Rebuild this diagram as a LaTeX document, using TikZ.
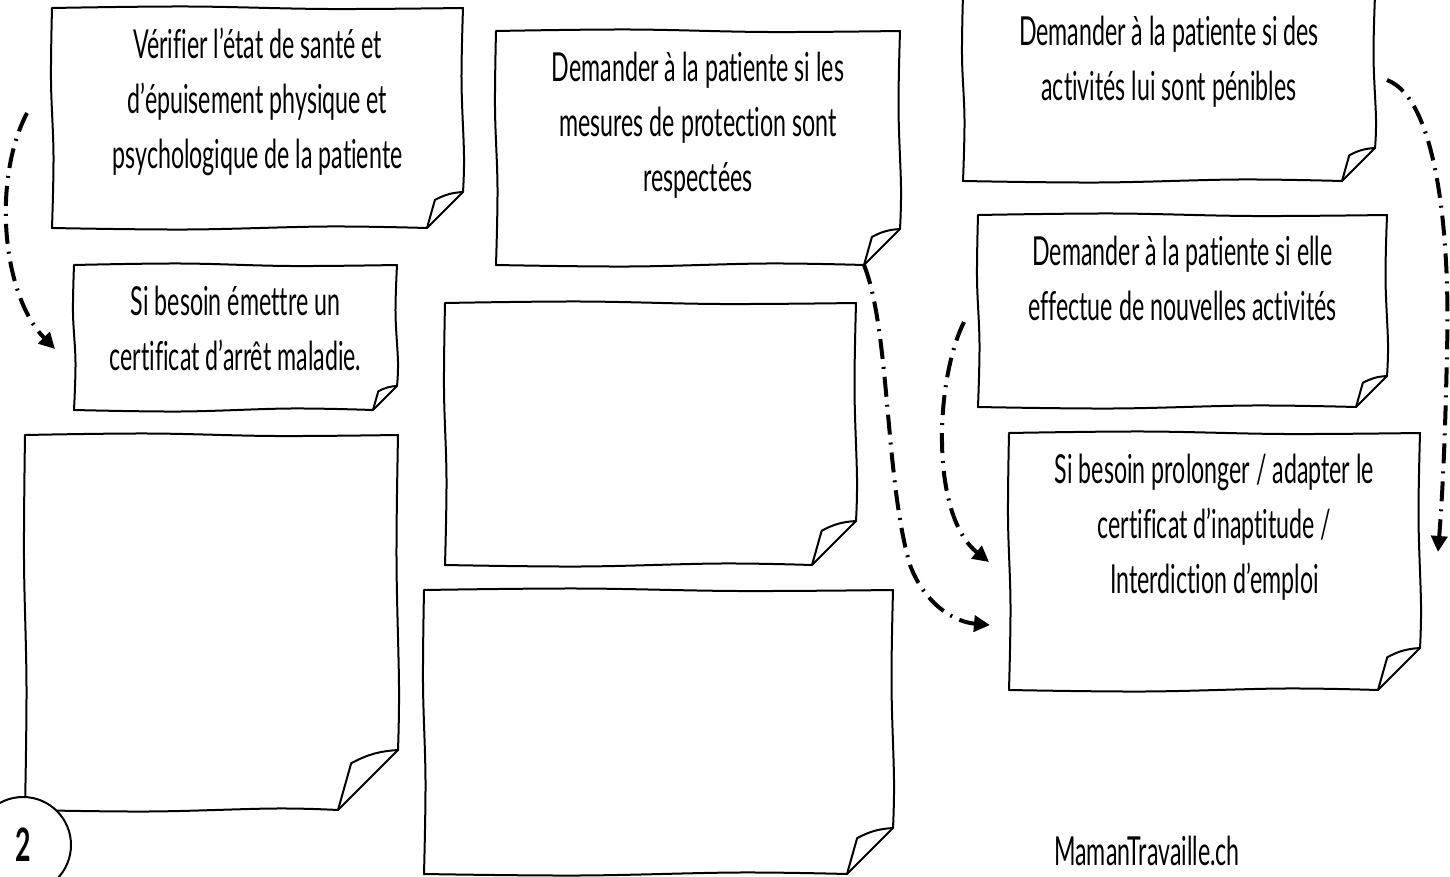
\documentclass[tikz,border=0pt]{standalone}
\usepackage{fontspec}
\setmainfont{Lato}[FakeStretch=0.58, Ligatures={TeX,NoCommon}]
\usetikzlibrary{arrows.meta}

\tikzset{
  notebox/.style={line width=2pt, line join=round},
  notetext/.style={align=center, anchor=north, inner sep=0pt, font=\fontsize{40}{55}\selectfont},
  flow/.style={line width=4pt, dash pattern=on 20pt off 8pt on 2pt off 8pt, -{Triangle[length=16pt,width=16pt]}},
}

% sticky note: name, left, top, right, bottom, fold size, text
\newcommand{\stickynote}[7]{
  \pgfmathsetmacro{\xa}{(#2)+0.33*((#4)-(#2))}
  \pgfmathsetmacro{\xb}{(#2)+0.67*((#4)-(#2))}
  \pgfmathsetmacro{\ya}{(#3)+0.33*((#5)-(#3))}
  \pgfmathsetmacro{\yb}{(#3)+0.67*((#5)-(#3))}
  \pgfmathsetmacro{\fx}{(#4)-(#6)}
  \pgfmathsetmacro{\fy}{(#5)-(#6)}
  \pgfmathsetmacro{\px}{\fx+0.22*(#6)}
  \pgfmathsetmacro{\py}{\fy+0.22*(#6)}
  \pgfmathsetmacro{\cx}{0.5*((#2)+(#4))}
  \fill[white] (#2,#3) rectangle (#4,#5);
  \draw[notebox] plot[smooth,tension=.6] coordinates {(#2,#3) (\xa,{#3-1.5}) (\xb,{#3+1}) (#4,#3)}
    -- plot[smooth,tension=.6] coordinates {(#4,#3) ({#4-1.5},\ya) ({#4+1},\yb) (#4,\fy)}
    -- (\fx,#5)
    -- plot[smooth,tension=.6] coordinates {(\fx,#5) (\xb,{#5-1.5}) (\xa,{#5+1.5}) (#2,#5)}
    -- plot[smooth,tension=.6] coordinates {(#2,#5) ({#2+1.5},\yb) ({#2-1},\ya) (#2,#3)} -- cycle;
  \draw[notebox] (#4,\fy) to[bend right=12] (\px,\py) -- (\fx,#5);
  \coordinate (#1-fold) at (\fx,#5);
  \node[notetext] (#1) at (\cx,{#3+18}) {\rule{0pt}{32pt}#7};
}

\begin{document}
\begin{tikzpicture}[x=1pt,y=-1pt]
  \fill[white] (0,0) rectangle (1450,877);
  \useasboundingbox (0,0) rectangle (1450,877);

  % left column
  \stickynote{sante}{52}{8}{463}{228}{36}{V\'erifier l'\'etat de sant\'e et\\d'\'epuisement physique et\\psychologique de la patiente}
  \stickynote{arret}{74}{265}{397}{410}{24}{Si besoin \'emettre un\\certificat d'arr\^et maladie.}
  \stickynote{blancA}{25}{435}{398}{810}{60}{}
  \node[circle, draw, line width=2pt, fill=white, minimum size=96pt, inner sep=0pt,
        font=\fontsize{46}{46}\selectfont\bfseries] (page) at (23,845) {2};

  % middle column
  \stickynote{mesures}{496}{31}{900}{265}{36}{Demander \`a la patiente si les\\mesures de protection sont\\respect\'ees}
  \stickynote{blancB}{445}{303}{856}{565}{44}{}
  \stickynote{blancC}{424}{590}{893}{874}{46}{}

  % right column
  \stickynote{penibles}{963}{-5}{1375}{181}{33}{Demander \`a la patiente si des\\activit\'es lui sont p\'enibles}
  \stickynote{nouvelles}{978}{215}{1387}{407}{31}{Demander \`a la patiente si elle\\effectue de nouvelles activit\'es}
  \stickynote{prolonger}{1009}{433}{1420}{690}{42}{Si besoin prolonger / adapter le\\certificat d'inaptitude /\\Interdiction d'emploi}

  \node[anchor=base, inner sep=0pt, font=\fontsize{40}{40}\selectfont] (site) at (1147,865) {MamanTravaille.ch};

  % arrows
  \coordinate (a1) at (27,113);
  \coordinate (a1-end) at (55,349);
  \coordinate (a3) at (964,322);
  \coordinate (a3-end) at (989,562);
  \coordinate (a2-end) at (990,625);
  \coordinate (a4) at (1387,80);
  \coordinate (a4-mid) at (1447,350);
  \coordinate (a4-end) at (1438,552);
  \coordinate (a2-mid) at (910,565);

  \draw[flow] (a1) .. controls (-8,180) and (2,295) .. (a1-end);
  \draw[flow] (mesures-fold) .. controls (890,330) and (885,480) .. (a2-mid)
     .. controls (925,605) and (955,622) .. (a2-end);
  \draw[flow] (a3) .. controls (935,380) and (930,515) .. (a3-end);
  \draw[flow] (a4) .. controls (1440,100) and (1450,250) .. (a4-mid)
     .. controls (1445,450) and (1442,500) .. (a4-end);
\end{tikzpicture}
\end{document}
